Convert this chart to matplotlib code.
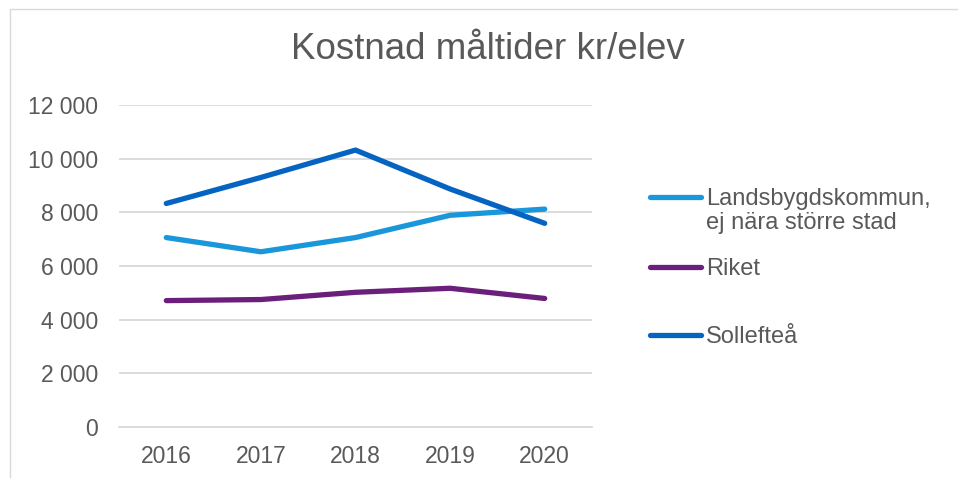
import matplotlib.pyplot as plt
from matplotlib.lines import Line2D

plt.rcParams['font.family'] = ['Liberation Sans', 'DejaVu Sans']

years = ['2016', '2017', '2018', '2019', '2020']
landsbygd = [7060, 6530, 7060, 7890, 8120]
riket = [4710, 4750, 5020, 5170, 4790]
solleftea = [8330, 9300, 10320, 8870, 7590]

namn = ['Landsbygdskommun,\nej nära större stad', 'Riket', 'Sollefteå']
farger = ['#1A96DB', '#6B1F7B', '#0563C1']
serier = [landsbygd, riket, solleftea]

textfarg = '#595959'
gridfarg = '#D9D9D9'

fig = plt.figure(figsize=(9.58, 4.78), dpi=100)
ax = fig.add_axes([119 / 958, 1 - 427 / 478, 473 / 958, 322 / 478])

x = range(len(years))
for s, f in zip(serier, farger):
    ax.plot(x, s, color=f, lw=3.8, solid_capstyle='round', solid_joinstyle='round')

ax.set_xlim(-0.5, len(years) - 0.5)
ax.set_ylim(0, 12000)
ax.set_yticks(range(0, 12001, 2000))
ax.set_yticklabels([f'{v:,}'.replace(',', ' ') for v in range(0, 12001, 2000)])
ax.set_xticks(list(x))
ax.set_xticklabels(years)
ax.grid(axis='y', color=gridfarg, lw=1.3)
ax.set_axisbelow(True)
for sp in ['top', 'right', 'left']:
    ax.spines[sp].set_visible(False)
ax.spines['bottom'].set_color(gridfarg)
ax.spines['bottom'].set_linewidth(1.3)
ax.tick_params(length=0, labelsize=16.5, labelcolor=textfarg)
ax.tick_params(axis='y', pad=15)
ax.tick_params(axis='x', pad=13)

fig.text(488 / 958, 1 - 59 / 478, 'Kostnad måltider kr/elev', ha='center', va='baseline',
         fontsize=26.5, color=textfarg)

# legend, drawn by hand to match the layout
leg_y = [197, 267, 335]
for yy, n, f in zip(leg_y, namn, farger):
    fig.add_artist(Line2D([650 / 958, 701 / 958], [1 - yy / 478] * 2, color=f, lw=3.8,
                          solid_capstyle='round', transform=fig.transFigure))
    fig.text(706 / 958, 1 - (yy - 9) / 478, n, ha='left', va='top', fontsize=17,
             color=textfarg, linespacing=1.12)

# chart border
fig.add_artist(Line2D([10 / 958, 10 / 958, 1], [0, 1 - 9 / 478, 1 - 9 / 478], color=gridfarg,
                      lw=1, transform=fig.transFigure))

fig.savefig('out.png', dpi=100)
